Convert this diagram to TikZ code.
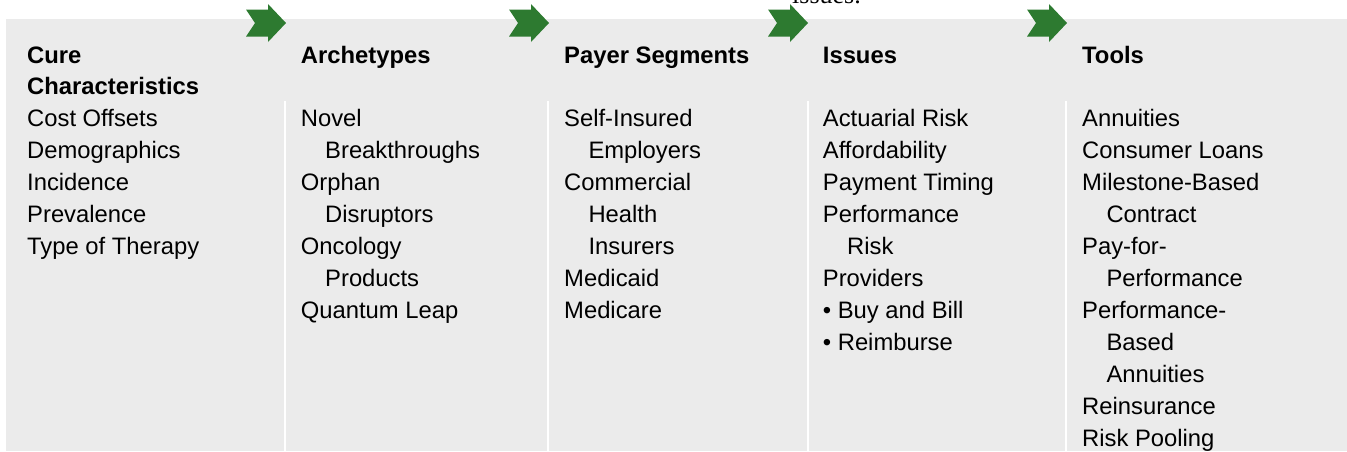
\documentclass[tikz,border=0pt]{standalone}
\usepackage{fontspec}
\setmainfont{Liberation Sans}
\newfontfamily\seriffnt{Liberation Serif}
\definecolor{panelgray}{RGB}{235,235,235}
\definecolor{arrowgreen}{RGB}{45,122,48}
\newcommand\indt{\hspace*{24.3pt}}
\begin{document}
\begin{tikzpicture}[x=1pt,y=-1pt,
  txt/.style={anchor=base west,inner sep=0pt,font=\fontsize{23.8}{32}\selectfont,text=black},
  headtxt/.style={txt,font=\fontsize{23.8}{32}\selectfont\bfseries},
  sepline/.style={white,line width=2pt},
  chevron/.pic={\fill[arrowgreen] (-40,-13.5) -- (-18,-13.5) -- (-18,-19) -- (0,0) -- (-18,19) -- (-18,13.5) -- (-40,13.5) -- (-31,0) -- cycle;}]
\useasboundingbox (0,0) rectangle (1347,451);
\fill[panelgray] (6,19) rectangle (1347,451);
% clipped text at the top
\node[anchor=base west,inner sep=0pt,font=\seriffnt\fontsize{26}{30}\selectfont] (cut) at (792,3.5) {issues.};
% separators
\foreach \sx [count=\k] in {285,548,808,1066}
  \draw[sepline] (\sx,101) -- (\sx,451);
% arrows
\pic at (286,23) {chevron};
\pic at (549,23) {chevron};
\pic at (808,23) {chevron};
\pic at (1067,23) {chevron};
% headers
\node[headtxt] (h1a) at (27,63) {Cure};
\node[headtxt] (h1b) at (27,94) {Characteristics};
\node[headtxt] (h2) at (300.7,63) {Archetypes};
\node[headtxt] (h3) at (564,63) {Payer Segments};
\node[headtxt] (h4) at (822.7,63) {Issues};
\node[headtxt] (h5) at (1082,63) {Tools};
% column 1
\foreach \t [count=\i from 0] in {Cost Offsets, Demographics, Incidence, Prevalence, Type of Therapy}
  \node[txt] (a\i) at (27,126.7+32*\i) {\t};
% column 2
\foreach \t [count=\i from 0] in {Novel, {\indt Breakthroughs}, Orphan, {\indt Disruptors}, Oncology, {\indt Products}, Quantum Leap}
  \node[txt] (b\i) at (300.7,126.7+32*\i) {\t};
% column 3
\foreach \t [count=\i from 0] in {Self-Insured, {\indt Employers}, Commercial, {\indt Health}, {\indt Insurers}, Medicaid, Medicare}
  \node[txt] (c\i) at (564,126.7+32*\i) {\t};
% column 4
\foreach \t [count=\i from 0] in {Actuarial Risk, Affordability, Payment Timing, Performance, {\indt Risk}, Providers, {• Buy and Bill}, {• Reimburse}}
  \node[txt] (d\i) at (822.7,126.7+32*\i) {\t};
% column 5
\foreach \t [count=\i from 0] in {Annuities, Consumer Loans, Milestone-Based, {\indt Contract}, Pay-for-, {\indt Performance}, Performance-, {\indt Based}, {\indt Annuities}, Reinsurance, Risk Pooling}
  \node[txt] (e\i) at (1082,126.7+32*\i) {\t};
\end{tikzpicture}
\end{document}
